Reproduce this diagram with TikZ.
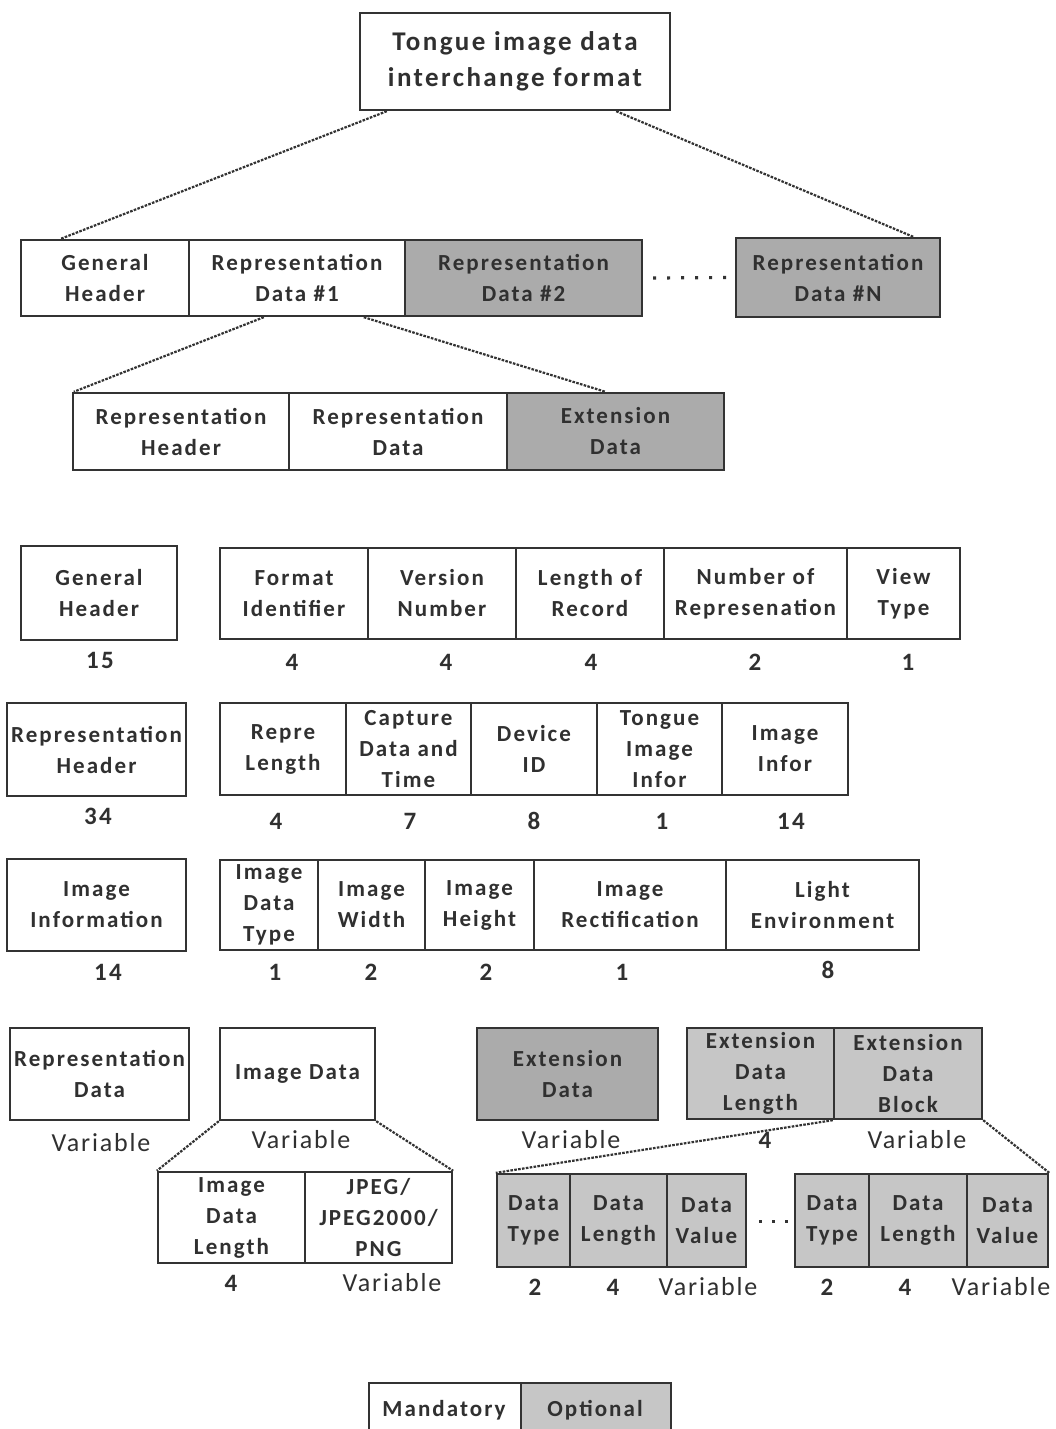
\documentclass[tikz,border=0pt]{standalone}
\usepackage{fontspec}
\setmainfont{Carlito}
\newfontfamily\boxfont{Carlito}[LetterSpace=9,BoldFont={* Bold}]
\newfontfamily\varfont{Carlito}[LetterSpace=7]
\definecolor{linec}{HTML}{333333}
\definecolor{txt}{HTML}{303030}
\definecolor{grayA}{HTML}{ABABAB}
\definecolor{grayB}{HTML}{C6C6C6}
\tikzset{
  bx/.style={draw=linec, line width=2.4pt, fill=white, inner sep=0pt, align=center,
    font=\boxfont\bfseries\fontsize{23}{31}\selectfont, text=txt},
  topbx/.style={bx, font=\boxfont\bfseries\fontsize{27}{36}\selectfont},
  gA/.style={bx, fill=grayA},
  gB/.style={bx, fill=grayB},
  num/.style={font=\boxfont\bfseries\fontsize{25}{28}\selectfont, text=txt, inner sep=0pt},
  varl/.style={font=\varfont\fontsize{26}{28}\selectfont, text=txt, inner sep=0pt},
  conn/.style={draw=linec, line width=2.2pt, dash pattern=on 2.6pt off 1.3pt},
  dotl/.style={draw=linec, line width=3.2pt, dash pattern=on 3pt off 11pt},
}
% box: style, name, x1, x2, y1, y2, text
\newcommand\B[7][bx]{%
  \node[#1, minimum width={#4-#3}, minimum height={#6-#5}] (#2) at ({(#3+#4)/2},{(#5+#6)/2}) {#7};}
\begin{document}
\begin{tikzpicture}[x=1pt,y=-1pt]
\useasboundingbox (0,0) rectangle (1055,1429);
\clip (0,0) rectangle (1055,1429);
% top
\B[topbx]{top}{360}{670}{13}{110}{Tongue image data\\interchange format}
% row 2
\B{gh}{21}{189}{240}{316}{General\\Header}
\B{rd1}{189}{405}{240}{316}{Representation\\Data \#1}
\B[gA]{rd2}{405}{642}{240}{316}{Representation\\Data \#2}
\B[gA]{rdn}{736}{940}{238}{317}{Representation\\Data \#N}
\draw[conn] ([xshift=28]top.south west) -- ([xshift=41]gh.north west);
\draw[conn] ([xshift=-55]top.south east) -- ([xshift=-28]rdn.north east);
\draw[dotl] ([xshift=10]rd2.east) -- ([xshift=-6]rdn.west);
% row 3
\B{rh}{73}{289}{393}{470}{Representation\\Header}
\B{rdt}{289}{507}{393}{470}{Representation\\Data}
\B[gA]{ed}{507}{724}{393}{470}{Extension\\Data}
\draw[conn] ([xshift=76]rd1.south west) -- ([xshift=2]rh.north west);
\draw[conn] ([xshift=176]rd1.south west) -- ([xshift=-10]ed.north);
% row 4
\B{gh2}{21}{177}{546}{640}{General\\Header}
\node[num] (n15) at (100,660) {15};
\B{fi}{220}{368}{548}{639}{Format\\Identifier}
\B{vn}{368}{516}{548}{639}{Version\\Number}
\B{lr}{516}{664}{548}{639}{Length of\\Record}
\B{nr}{664}{847}{548}{639}{Number of\\Represenation}
\B{vt}{847}{960}{548}{639}{View\\Type}
\node[num] (n41) at (292,662) {4};
\node[num] (n42) at (446,662) {4};
\node[num] (n43) at (591,662) {4};
\node[num] (n44) at (755,662) {2};
\node[num] (n45) at (908,662) {1};
% row 5
\B{rh2}{7}{186}{703}{796}{Representation\\Header}
\node[num] (n34) at (98,816) {34};
\B{rl}{220}{346}{703}{795}{Repre\\Length}
\B{cd}{346}{471}{703}{795}{Capture\\Data and\\Time}
\B{di}{471}{597}{703}{795}{Device\\ID}
\B{ti}{597}{722}{703}{795}{Tongue\\Image\\Infor}
\B{ii}{722}{848}{703}{795}{Image\\Infor}
\node[num] (n51) at (276,821) {4};
\node[num] (n52) at (410,821) {7};
\node[num] (n53) at (534,821) {8};
\node[num] (n54) at (662,821) {1};
\node[num] (n55) at (791,821) {14};
% row 6
\B{iinf}{7}{186}{859}{951}{Image\\Information}
\node[num] (n14) at (108,972) {14};
\B{idt}{220}{318}{860}{950}{Image\\Data\\Type}
\B{iw}{318}{425}{860}{950}{Image\\Width}
\B{ih}{425}{534}{860}{950}{Image\\Height}
\B{ir}{534}{726}{860}{950}{Image\\Rectification}
\B{le}{726}{919}{860}{950}{Light\\Environment}
\node[num] (n61) at (275,972) {1};
\node[num] (n62) at (371,972) {2};
\node[num] (n63) at (486,972) {2};
\node[num] (n64) at (622,972) {1};
\node[num] (n65) at (828,970) {8};
% row 7
\B{rd3}{10}{189}{1028}{1120}{Representation\\Data}
\node[varl] (v1) at (101,1143) {Variable};
\B{imd}{220}{375}{1028}{1120}{Image Data}
\node[varl] (v2) at (301,1140) {Variable};
\B[gA]{ed2}{477}{658}{1028}{1120}{Extension\\Data}
\node[varl] (v3) at (571,1140) {Variable};
\B[gB]{edl}{687}{834}{1028}{1119}{Extension\\Data\\Length}
\B[gB]{edb}{834}{982}{1028}{1119}{Extension\\Data\\Block}
\node[num] (n71) at (765,1140) {4};
\node[varl] (v4) at (917,1140) {Variable};
% row 8
\B{idl}{158}{305}{1172}{1263}{Image\\Data\\Length}
\B{jpg}{305}{452}{1172}{1263}{JPEG/\\JPEG2000/\\PNG}
\node[num] (n81) at (231,1283) {4};
\node[varl] (v5) at (392,1283) {Variable};
\draw[conn] (imd.south west) -- (idl.north west);
\draw[conn] (imd.south east) -- (jpg.north east);
\B[gB]{dt1}{497}{570}{1174}{1267}{Data\\Type}
\B[gB]{dl1}{570}{667}{1174}{1267}{Data\\Length}
\B[gB]{dv1}{667}{746}{1174}{1267}{Data\\Value}
\B[gB]{dt2}{795}{869}{1174}{1267}{Data\\Type}
\B[gB]{dl2}{869}{967}{1174}{1267}{Data\\Length}
\B[gB]{dv2}{967}{1048}{1174}{1267}{Data\\Value}
\draw[dotl, dash pattern=on 3pt off 10pt] ([xshift=12,yshift=-1]dv1.east) -- ([xshift=-6,yshift=-1]dt2.west);
\draw[conn] (edb.south west) -- (dt1.north west);
\draw[conn] (edb.south east) -- (dv2.north east);
\node[num] (n91) at (535,1287) {2};
\node[num] (n92) at (613,1287) {4};
\node[varl] (v6) at (708,1287) {Variable};
\node[num] (n93) at (827,1287) {2};
\node[num] (n94) at (905,1287) {4};
\node[varl] (v7) at (1001,1287) {Variable};
% legend
\node[bx, minimum width=152, minimum height=66, anchor=north west] (mand) at (368,1382) {};
\node[gB, minimum width=150, minimum height=66, anchor=north west] (opt) at (520,1382) {};
\node[font=\boxfont\bfseries\fontsize{23}{31}\selectfont, text=txt] (mt) at (444,1410) {Mandatory};
\node[font=\boxfont\bfseries\fontsize{23}{31}\selectfont, text=txt] (ot) at (595,1410) {Optional};
\end{tikzpicture}
\end{document}
